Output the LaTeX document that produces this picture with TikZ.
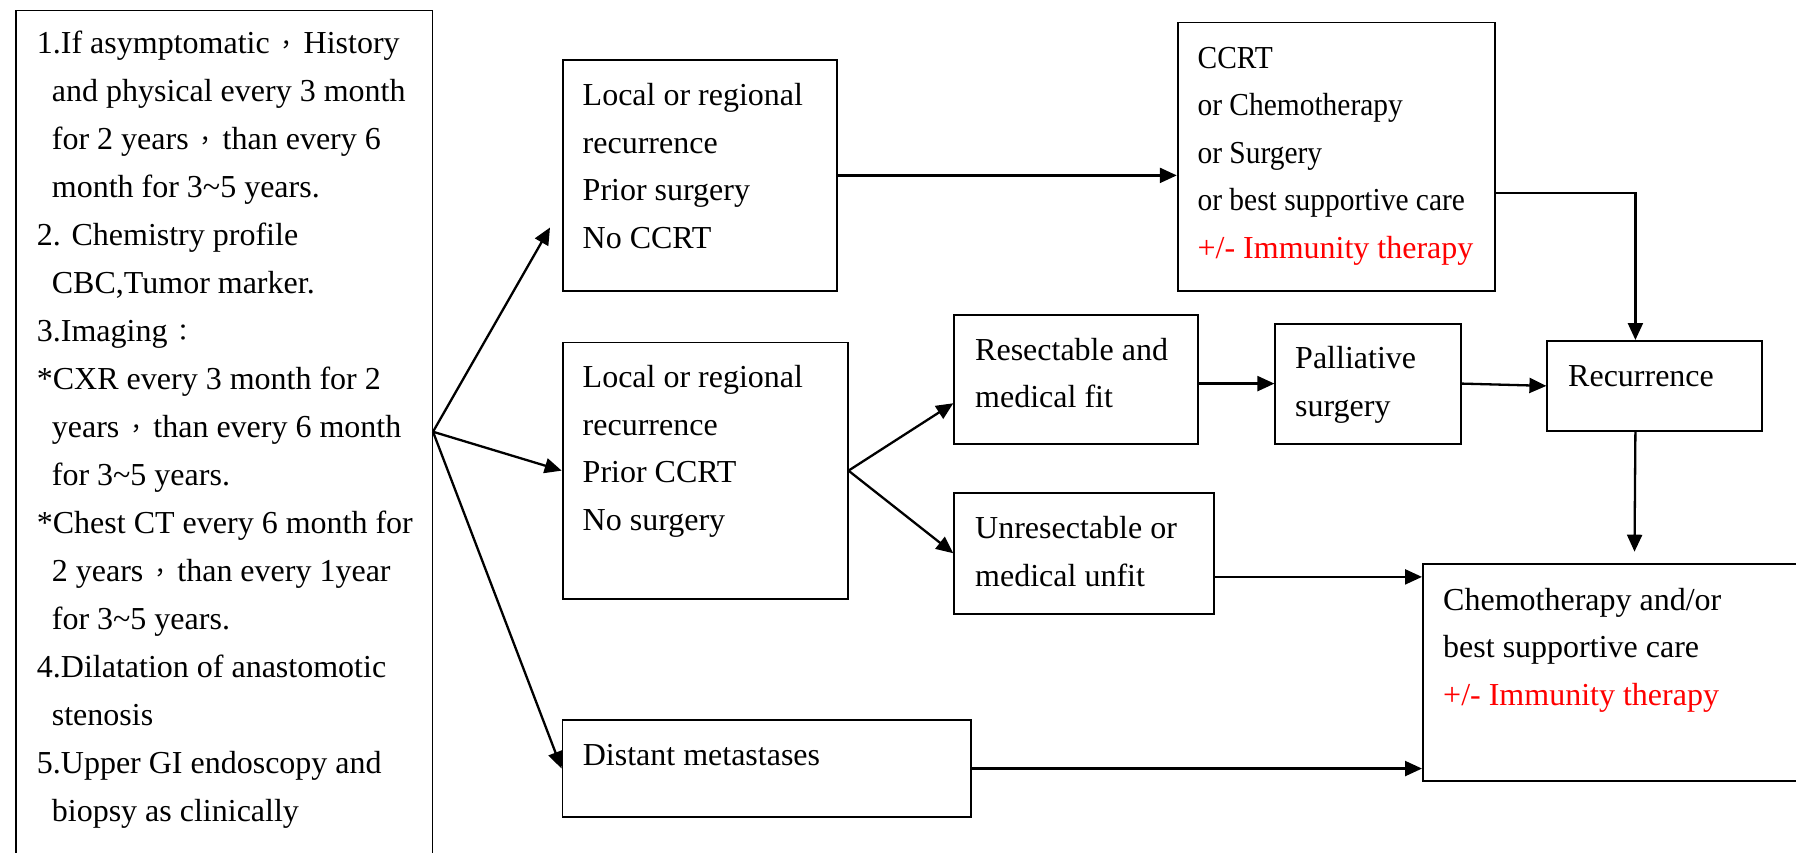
\documentclass[tikz,border=0pt]{standalone}
\usepackage{fontspec}
\usepackage{graphicx}
\setmainfont{Liberation Serif}
\newfontfamily\cjk{Noto Sans CJK TC}
\usetikzlibrary{arrows.meta}
\newcommand{\fc}{\makebox[34pt]{\cjk\fontsize{24}{24}\selectfont ，}}
\newcommand{\fcol}{\makebox[32pt]{\cjk\fontsize{24}{24}\selectfont ：}}
\newcommand{\tld}{\textasciitilde}
\newcommand{\ind}{\hspace*{15pt}}
\newcommand{\cnd}[1]{\scalebox{0.92}[1]{#1}}
\begin{document}
\begin{tikzpicture}[x=1pt,y=-1pt,
  box/.style={draw, line width=1.8pt, inner sep=0pt, anchor=north west},
  txt/.style={anchor=north west, inner sep=0pt, align=left, font=\fontsize{32}{47.5}\selectfont},
  ltxt/.style={anchor=north west, inner sep=0pt, align=left, font=\fontsize{32}{48}\selectfont},
  arr/.style={line width=2.3pt, -{Triangle[length=17pt,width=15pt]}}]
\useasboundingbox (0,0) rectangle (1796,853);
% boxes
\node[box, line width=1.5pt, minimum width=416.5pt, minimum height=890pt] (L) at (15,10) {};
\node[box, minimum width=274pt, minimum height=231pt] (A) at (561.7,59) {};
\node[box, minimum width=317.2pt, minimum height=268.3pt] (CC) at (1176.8,21.7) {};
\node[box, minimum width=285pt, minimum height=256.5pt] (B) at (561.7,341.5) {};
\node[box, minimum width=243.4pt, minimum height=128.7pt] (Res) at (953.3,314) {};
\node[box, minimum width=259.7pt, minimum height=120.7pt] (Unr) at (953.3,492) {};
\node[box, minimum width=185.9pt, minimum height=120pt] (Pal) at (1274.4,322.7) {};
\node[box, minimum width=214.6pt, minimum height=90pt] (Rec) at (1546.4,340) {};
\node[box, minimum width=390pt, minimum height=216.7pt] (Che) at (1422,563.3) {};
\node[box, minimum width=408.1pt, minimum height=96.7pt] (Dis) at (561.6,719.3) {};
% texts
\node[ltxt] (Lt) at (36.7,19.7) {\strut 1.If asymptomatic\fc History\\
\ind and physical every 3 month\\
\ind for 2 years\fc than every 6\\
\ind month for 3\tld 5 years.\\
2. Chemistry profile\\
\ind CBC,Tumor marker.\\
3.Imaging\fcol\\
*CXR every 3 month for 2\\
\ind years\fc than every 6 month\\
\ind for 3\tld 5 years.\\
*Chest CT every 6 month for\\
\ind 2 years\fc than every 1year\\
\ind for 3\tld 5 years.\\
4.Dilatation of anastomotic\\
\ind stenosis\\
5.Upper GI endoscopy and\\
\ind biopsy as clinically};
\node[txt] (At) at (582.5,72.15) {\strut Local or regional\\recurrence\\Prior surgery\\No CCRT};
\node[txt] (CCt) at (1197.4,35.05) {\strut\cnd{CCRT}\\\cnd{or Chemotherapy}\\\cnd{or Surgery}\\\cnd{or best supportive care}\\\textcolor{red}{+/- Immunity therapy}};
\node[txt] (Bt) at (582.5,354.25) {\strut Local or regional\\recurrence\\Prior CCRT\\No surgery};
\node[txt] (Rest) at (975,326.75) {\strut Resectable and\\medical fit};
\node[txt] (Unrt) at (975,505.05) {\strut Unresectable or\\medical unfit};
\node[txt] (Palt) at (1295,335.05) {\strut Palliative\\surgery};
\node[txt] (Rect) at (1568,353.45) {\strut Recurrence};
\node[txt] (Chet) at (1443,576.75) {\strut Chemotherapy and/or\\best supportive care\\\textcolor{red}{+/- Immunity therapy}};
\node[txt] (Dist) at (582.6,731.75) {\strut Distant metastases};
% connectors
\coordinate (fan) at ([yshift=24pt]L.east);
\coordinate (aTip) at (550,227.5);
\coordinate (cheTip) at (1634.5,551.7);
\draw[arr] (fan) -- (aTip);
\draw[arr] (fan) -- (B.west);
\draw[arr] (fan) -- (Dis.west);
\draw[arr] (A.east) -- (A.east -| CC.west);
\draw[arr] ([yshift=-36.45pt]CC.east) -| ([xshift=-19.2pt]Rec.north);
\draw[arr] (B.east) -- ([yshift=-24pt]Res.west);
\draw[arr] (B.east) -- (Unr.west);
\draw[arr] (Res.east |- Pal.west) -- (Pal.west);
\draw[arr] (Pal.east) -- (Rec.west);
\draw[arr] ([xshift=-19.2pt]Rec.south) -- (cheTip);
\draw[arr] ([yshift=-23.65pt]Unr.east) -- ([yshift=-23.65pt]Unr.east -| Che.west);
\draw[arr] (Dis.east) -- (Dis.east -| Che.west);
\end{tikzpicture}
\end{document}
